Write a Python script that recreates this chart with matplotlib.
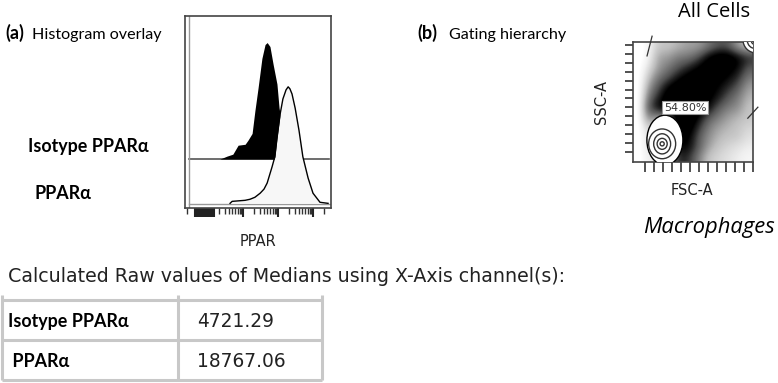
import numpy as np
import matplotlib
matplotlib.use("Agg")
import matplotlib.pyplot as plt
from matplotlib.patches import Ellipse

# ---- data ----
# (a) histogram overlay, x = log10 fluorescence, y = % of modal count
iso_logint = [2.34, 2.54, 2.71, 2.86, 3.06, 3.14, 3.26, 3.34, 3.43, 3.54, 3.63,
              3.69, 3.77, 3.86, 3.97, 4.03, 4.11, 4.23, 4.34]
iso_pct = [0, 2.5, 4.2, 11.9, 12.7, 16.1, 22, 41.5, 61, 86.4, 98.3,
           100, 96.6, 81.4, 64.4, 44.1, 29, 9, 0]
ppar_logint = [2.63, 2.69, 3.06, 3.2, 3.34, 3.49, 3.6, 3.69, 3.83, 3.91, 3.97,
               4.06, 4.14, 4.23, 4.29, 4.34, 4.4, 4.49, 4.6, 4.71, 4.86, 5.0, 5.2, 5.43]
ppar_pct = [0, 1.7, 2.6, 3.5, 5.2, 8.7, 12.2, 17.4, 31.3, 40, 55.7,
            76.5, 89.6, 97.4, 100, 98.3, 93.9, 81.7, 62.6, 40, 21.7, 8.7, 0.9, 0]
hist_labels = ["Isotype PPARα", "PPARα"]

# (b) FSC-A / SSC-A dot density (rows top->bottom, cols left->right), 0..1
density = np.array([
    [0, .10, .30, .30, .35, .40, .40, .50, .60, .60, .40, .30],
    [0, .10, .40, .40, .50, .50, .60, .80, .90, .90, .80, .70],
    [0, .20, .40, .50, .60, .70, .80, .90, .90, .85, .80, .60],
    [0, .30, .50, .60, .75, .85, .90, .90, .85, .80, .70, .50],
    [0, .40, .60, .80, .90, .95, .90, .85, .80, .70, .60, .40],
    [0, .50, .70, .90, .95, 1.0, .90, .85, .75, .60, .50, .35],
    [0, .60, .80, .90, .95, 1.0, .90, .80, .60, .50, .45, .30],
    [0, .50, .40, .50, .90, .95, .80, .60, .50, .40, .35, .30],
    [0, .30, .20, .30, .85, .90, .70, .50, .40, .35, .30, .25],
    [0, .20, .20, .30, .80, .85, .60, .45, .35, .30, .30, .20],
    [0, .20, .20, .30, .80, .80, .60, .40, .30, .25, .20, .15],
    [0, .15, .20, .30, .70, .70, .50, .30, .25, .20, .15, .10],
])
gate_pct = "54.80%"
# contour rings of the dense lymphoid/debris cluster (K units)
ring_w = [78.6, 59, 37, 22, 9]
ring_h = [109, 65, 44, 24, 9]
corner_r = [57, 39, 22]

# medians table
table_rows = ["Isotype PPARα", " PPARα"]
table_vals = ["4721.29", "18767.06"]

W, H = 778, 383
fig = plt.figure(figsize=(W / 100, H / 100), dpi=100)

# background axes in pixel coords for text + table
bg = fig.add_axes([0, 0, 1, 1])
bg.set_xlim(0, W)
bg.set_ylim(H, 0)
bg.axis("off")

calib = ["Lato", "DejaVu Sans"]
bg.text(5, 39, "(a)", fontsize=13, fontweight="bold", family=calib, va="baseline")
bg.text(32, 39, "Histogram overlay", fontsize=11.6, family=calib, va="baseline")
bg.text(417, 39, "(b)", fontsize=13, fontweight="bold", family=calib, va="baseline")
bg.text(449, 39, "Gating hierarchy", fontsize=11.6, family=calib, va="baseline")
bg.text(28, 152, hist_labels[0], fontsize=12.9, fontweight="bold", family=calib, va="baseline")
bg.text(35, 199, hist_labels[1], fontsize=12.9, fontweight="bold", family=calib, va="baseline")
bg.text(258, 246, "PPAR", fontsize=10.5, ha="center", va="baseline", color="#222")
bg.text(714, 17, "All Cells", fontsize=14.5, ha="center", va="baseline", family="Open Sans")
bg.text(692, 195, "FSC-A", fontsize=10.5, ha="center", va="baseline", color="#222")
bg.text(602, 102, "SSC-A", fontsize=10.5, ha="center", va="center", rotation=90, color="#222")
bg.text(775, 233, "Macrophages", fontsize=15.8, ha="right", va="baseline", style="italic",
        family="Open Sans")
bg.text(8, 282, "Calculated Raw values of Medians using X-Axis channel(s):",
        fontsize=13.7, va="baseline", color="#222")

# table grid + cells
grid_c = "#c8c8c8"
col_x = [2, 178, 322]
row_y = [300, 340, 380]
bg.hlines(row_y, col_x[0], col_x[-1], color=grid_c, lw=2.2)
bg.vlines(col_x, 295, row_y[-1], color=grid_c, lw=2.2)
for i, (name, val) in enumerate(zip(table_rows, table_vals)):
    base = row_y[i] + 27
    bg.text(8, base, name, fontsize=12.9, fontweight="bold", family=calib, va="baseline")
    bg.text(197, base, val, fontsize=13.4, va="baseline", color="#222")

# ---- (a) histogram overlay ----
ax = fig.add_axes([185 / W, (H - 208) / H, 146 / W, 192 / H])
iso_base, ppar_base = 42, 4
ax.set_xlim(1.343, 5.514)
ax.set_ylim(0, 164.8)
ax.plot([1.457, 5.45], [iso_base, iso_base], color="#555", lw=1.2, zorder=1)
ax.fill_between(iso_logint, iso_base, np.array(iso_pct) + iso_base, color="black",
                lw=0, zorder=2)
ax.fill_between(ppar_logint, ppar_base, np.array(ppar_pct) + ppar_base,
                color="#f7f7f7", lw=0, zorder=3)
ax.plot(ppar_logint, np.array(ppar_pct) + ppar_base, color="black", lw=1, zorder=4)
ax.axvline(1.457, color="#999", lw=1)
ax.axhline(3.4, color="#999", lw=1, xmin=0.027)
for s in ax.spines.values():
    s.set_color("#444")
    s.set_linewidth(1.2)
ax.set_yticks([])
major = [3, 4, 5] + list(np.arange(1.63, 2.2, 0.025))
minor = [d + np.log10(k) for d in (2, 3, 4) for k in range(2, 10)] + [5 + np.log10(2), 1.4]
ax.set_xticks(major)
ax.set_xticks(minor, minor=True)
ax.tick_params(axis="x", which="major", direction="out", length=6.5, width=1.5,
               color="#222", labelbottom=False)
ax.tick_params(axis="x", which="minor", direction="out", length=4, width=1,
               color="#333")

# ---- (b) scatter density ----
sx = fig.add_axes([633.3 / W, (H - 161.7) / H, 120 / W, 120 / H])
sx.imshow(density, cmap="Greys", vmin=0.05, vmax=0.8, extent=(0, 262, 0, 262),
          origin="upper", interpolation="bicubic", aspect="auto")
sx.set_xlim(0, 262)
sx.set_ylim(0, 262)
sx.add_patch(Ellipse((69, 47), ring_w[0], ring_h[0], fc="white", ec="black", lw=1, zorder=3))
for w, h in zip(ring_w[1:], ring_h[1:]):
    sx.add_patch(Ellipse((63, 39), w, h, fc="none", ec="#333", lw=1, zorder=4))
for r in corner_r:
    sx.add_patch(Ellipse((268, 266), r, r, fc="white" if r == corner_r[0] else "none",
                         ec="#333", lw=1, zorder=4))
sx.plot([41, 30], [274, 231], color="#333", lw=0.9, clip_on=False, zorder=5)
sx.plot([250, 272], [95, 119], color="#333", lw=0.9, clip_on=False, zorder=5)
sx.text(113, 118, gate_pct, fontsize=8, ha="center", va="center", color="#333", zorder=6,
        bbox=dict(boxstyle="square,pad=0.15", fc="white", ec="#999", lw=0.8))
for s in sx.spines.values():
    s.set_color("#444")
    s.set_linewidth(1.2)
sx.set_xticks(np.linspace(26, 262, 13))
sx.set_yticks(np.linspace(21, 255, 13))
sx.tick_params(axis="x", direction="out", length=7, width=1.2, color="#333", labelbottom=False)
sx.tick_params(axis="y", direction="out", length=6, width=1.2, color="#333", labelleft=False)

fig.savefig("out.png", dpi=100)
